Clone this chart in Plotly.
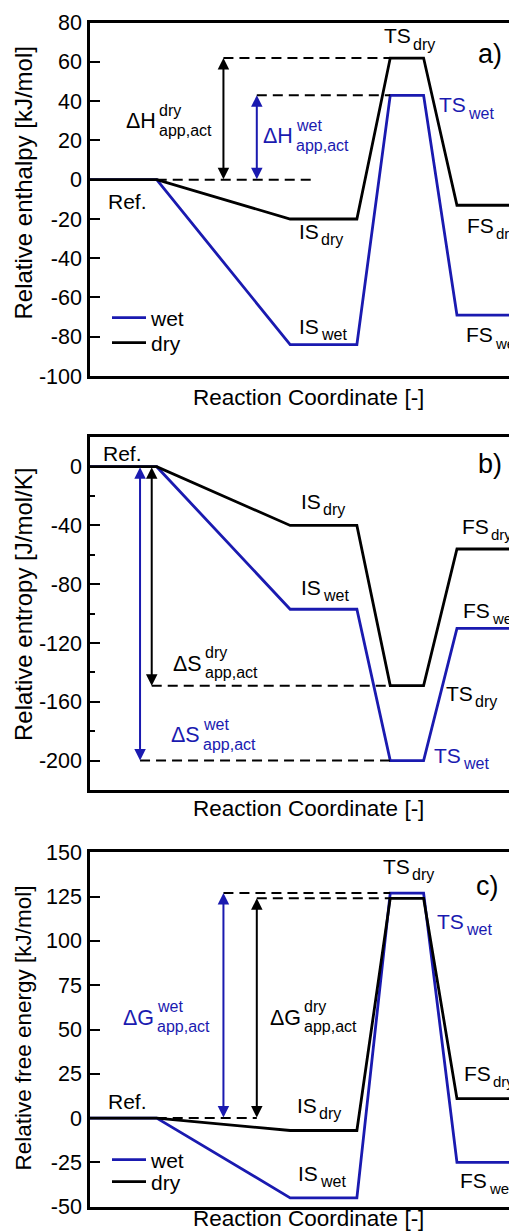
import plotly.graph_objects as go

# page body has an 8px margin: figure div starts at (8, 8) in the window
OX, OY = 8, 8
W, H = 512, 1224          # div size; plot's right border falls just outside the window
PL = 90                   # plot-area left edge in window pixels
ML = PL - OX
PW = W - ML

BLUE = "#1a1ab0"
BLACK = "#000000"
FONT = "Liberation Sans, Arial, Helvetica, sans-serif"

# ---------------- data ----------------
stage_names = ["Ref.", "IS", "TS", "FS"]
stage_start = [0, 6, 9, 11]      # reaction-coordinate extent of each plateau
stage_end = [2, 8, 10, 14]

enthalpy_wet = [0, -84, 43, -69]      # kJ/mol
enthalpy_dry = [0, -20, 62, -13]
entropy_wet = [0, -97, -200, -110]    # J/mol/K
entropy_dry = [0, -40, -149, -56]
free_energy_wet = [0, -45, 127, -25]  # kJ/mol
free_energy_dry = [0, -7, 124, 11]

enthalpy_ticks = [-100, -80, -60, -40, -20, 0, 20, 40, 60, 80]
enthalpy_ticktext = ["-100", "-80", "-60", "-40", "-20", "0", "20", "40", "60", "80"]
entropy_ticks = [-200, -160, -120, -80, -40, 0]
entropy_ticktext = ["-200", "-160", "-120", "-80", "-40", "0"]
free_ticks = [-50, -25, 0, 25, 50, 75, 100, 125, 150]
free_ticktext = ["-50", "-25", "0", "25", "50", "75", "100", "125", "150"]

X_MAX = PW / 33.36   # reaction-coordinate span of the frame


def profile(values):
    xs, ys = [], []
    for s, e, v in zip(stage_start, stage_end, values):
        xs += [s, e]
        ys += [v, v]
    return xs, ys


def py2paper(py):
    return 1 - (py - OY) / H


def px2paper(px):
    return (px - PL) / PW


def dom(top_px, bot_px):
    return [py2paper(bot_px), py2paper(top_px)]


panels = [
    dict(wet=enthalpy_wet, dry=enthalpy_dry, rng=[-100, 80], ticks=enthalpy_ticks,
         ticktext=enthalpy_ticktext, domain=dom(22.7, 376), minor=None,
         legends=("legend", "legend2")),
    dict(wet=entropy_wet, dry=entropy_dry, rng=[-220, 20], ticks=entropy_ticks,
         ticktext=entropy_ticktext, domain=dom(437.3, 790), minor=20, legends=None),
    dict(wet=free_energy_wet, dry=free_energy_dry, rng=[-50, 150], ticks=free_ticks,
         ticktext=free_ticktext, domain=dom(852.3, 1206.7), minor=None,
         legends=("legend3", "legend4")),
]

fig = go.Figure()
layout = {}
annotations = []
DASH = "10px,6px"

for i, p in enumerate(panels):
    n = "" if i == 0 else str(i + 1)
    xa, ya = "x" + n, "y" + n

    xw, yw = profile(p["wet"])
    xd, yd = profile(p["dry"])
    show = p["legends"] is not None
    kw_w = dict(legend=p["legends"][0]) if show else {}
    kw_d = dict(legend=p["legends"][1]) if show else {}
    fig.add_trace(go.Scatter(x=xw, y=yw, mode="lines", name="wet", xaxis=xa, yaxis=ya,
                             line=dict(color=BLUE, width=2.8), showlegend=show, **kw_w))
    fig.add_trace(go.Scatter(x=xd, y=yd, mode="lines", name="dry", xaxis=xa, yaxis=ya,
                             line=dict(color=BLACK, width=2.8), showlegend=show, **kw_d))

    layout["xaxis" + n] = dict(domain=[0, 1], anchor=ya, range=[0, X_MAX], showline=True,
                               mirror=True, linecolor=BLACK, linewidth=2.5, ticks="",
                               showticklabels=False, showgrid=False, zeroline=False,
                               automargin=False)
    ydict = dict(domain=p["domain"], anchor=xa, range=p["rng"], showline=True,
                 mirror="ticks", linecolor=BLACK, linewidth=2.5, ticks="inside", ticklen=10,
                 tickwidth=2, tickcolor=BLACK, tickvals=p["ticks"], ticktext=p["ticktext"],
                 tickfont=dict(size=21.5, family=FONT, color=BLACK), showgrid=False,
                 zeroline=False, ticklabelstandoff=1, automargin=False)
    if p["minor"]:
        ydict["minor"] = dict(ticks="inside", ticklen=5, tickwidth=2, tickcolor=BLACK,
                              dtick=p["minor"], showgrid=False)
    layout["yaxis" + n] = ydict


def guide(panel, x0, x1, yv):
    n = "" if panel == 0 else str(panel + 1)
    fig.add_trace(go.Scatter(x=[x0, x1], y=[yv, yv], mode="lines", xaxis="x" + n,
                             yaxis="y" + n, showlegend=False, hoverinfo="skip",
                             line=dict(color=BLACK, width=2, dash=DASH)))


def arrow(panel, xv, y0, y1, color):
    n = "" if panel == 0 else str(panel + 1)
    annotations.append(dict(x=xv, y=y1, ax=xv, ay=y0, xref="x" + n, yref="y" + n,
                            axref="x" + n, ayref="y" + n, text="", showarrow=True,
                            arrowhead=2, startarrowhead=2, arrowside="end+start",
                            arrowwidth=2, arrowsize=1.15, startarrowsize=1.15,
                            arrowcolor=color, standoff=0, startstandoff=0,
                            font=dict(size=1), borderpad=0))


TS, REF = 2, 0
# panel a guides
guide(0, 4, stage_start[TS], enthalpy_dry[TS])
guide(0, 5, stage_start[TS], enthalpy_wet[TS])
guide(0, stage_end[REF], 6.67, enthalpy_dry[REF])
arrow(0, 4, enthalpy_dry[REF], enthalpy_dry[TS], BLACK)
arrow(0, 5, enthalpy_wet[REF], enthalpy_wet[TS], BLUE)
# panel b guides
guide(1, 1.85, stage_start[TS], entropy_dry[TS])
guide(1, 1.5, stage_start[TS], entropy_wet[TS])
arrow(1, 1.85, entropy_dry[REF], entropy_dry[TS], BLACK)
arrow(1, 1.5, entropy_wet[REF], entropy_wet[TS], BLUE)
# panel c guides
guide(2, 4, stage_start[TS], free_energy_wet[TS])
guide(2, 5, stage_start[TS], free_energy_dry[TS])
guide(2, stage_end[REF], 5, free_energy_dry[REF])
arrow(2, 4, free_energy_wet[REF], free_energy_wet[TS], BLUE)
arrow(2, 5, free_energy_dry[REF], free_energy_dry[TS], BLACK)


# ---------------- text ----------------
def text(px, py, s, color=BLACK, size=21, xanchor="center", angle=0):
    annotations.append(dict(x=px2paper(px), y=py2paper(py), xref="paper", yref="paper",
                            text=s, showarrow=False, xanchor=xanchor, yanchor="middle",
                            borderpad=0, textangle=angle,
                            font=dict(size=size, color=color, family=FONT)))


SUBSZ = 16


def sublabel(jx, cy, main, sub, color=BLACK, subsize=SUBSZ):
    text(jx, cy, main, color, 21, "right")
    text(jx, cy + 8.3, sub, color, subsize, "left")


def stacked(jx, cy, main, sup, sub, color=BLACK):
    text(jx, cy, main, color, 21.5, "right")
    text(jx + 1, cy - 10.7, sup, color, SUBSZ, "left")
    text(jx + 1, cy + 9.3, sub, color, SUBSZ, "left")


# panel a
text(127, 201, "Ref.")
sublabel(320, 231, "IS", "dry")
sublabel(320, 326.5, "IS", "wet")
sublabel(412, 35.8, "TS", "dry")
sublabel(467, 105, "TS", "wet", BLUE)
sublabel(495, 225, "FS", "dry", subsize=15)
sublabel(494, 335, "FS", "wet", subsize=15)
text(489.5, 54, "a)", size=27)
stacked(157, 120.8, "ΔH", "dry", "app,act")
stacked(294, 136.5, "ΔH", "wet", "app,act", BLUE)

# panel b
text(122, 453, "Ref.")
text(490, 464, "b)", size=27)
sublabel(322, 501.5, "IS", "dry")
sublabel(322, 587.5, "IS", "wet")
sublabel(490, 526.5, "FS", "dry", subsize=15)
sublabel(491, 610, "FS", "wet", subsize=15)
sublabel(474, 693.5, "TS", "dry")
sublabel(462, 755, "TS", "wet", BLUE)
stacked(203, 663.5, "ΔS", "dry", "app,act")
stacked(201, 735, "ΔS", "wet", "app,act", BLUE)

# panel c
sublabel(411, 866.5, "TS", "dry")
text(487.5, 885.5, "c)", size=27)
sublabel(465, 921, "TS", "wet", BLUE)
stacked(155, 1017.5, "ΔG", "wet", "app,act", BLUE)
stacked(302, 1017.5, "ΔG", "dry", "app,act")
text(127, 1101.5, "Ref.")
sublabel(318, 1105.5, "IS", "dry")
sublabel(319, 1173.5, "IS", "wet")
sublabel(492, 1073.5, "FS", "dry", subsize=15)
sublabel(488, 1180, "FS", "wet", subsize=15)

# axis titles
for ty in (397, 808, 1218.5):
    text(308.5, ty, "Reaction Coordinate [-]", size=22.5)
text(23, 183.5, "Relative enthalpy [kJ/mol]", size=24, angle=-90)
text(23, 605, "Relative entropy [J/mol/K]", size=24, angle=-90)
text(23, 1028.5, "Relative free energy [kJ/mol]", size=22.5, angle=-90)


def leg(row_py):
    return dict(x=px2paper(107), y=py2paper(row_py), xref="paper", yref="paper",
                xanchor="left", yanchor="middle", bgcolor="rgba(0,0,0,0)", borderwidth=0,
                itemwidth=34, font=dict(size=21, family=FONT, color=BLACK))


fig.update_layout(
    width=W, height=H,
    margin=dict(l=ML, r=0, t=0, b=0, pad=0, autoexpand=False),
    paper_bgcolor="white", plot_bgcolor="white",
    font=dict(family=FONT, color=BLACK),
    showlegend=True,
    legend=leg(318), legend2=leg(343), legend3=leg(1160), legend4=leg(1182),
    annotations=annotations,
    **layout,
)

fig.write_html("out.html")
